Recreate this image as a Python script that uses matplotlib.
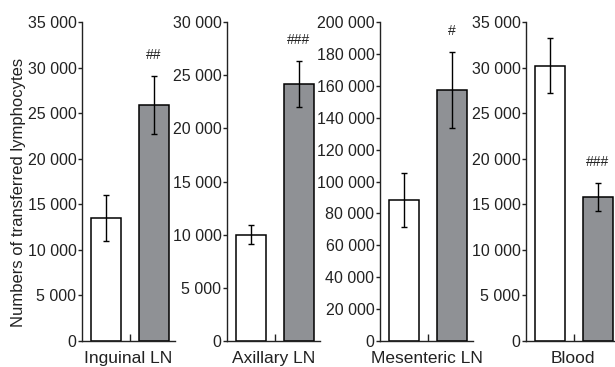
import matplotlib
matplotlib.use("Agg")
import matplotlib.pyplot as plt
from matplotlib.ticker import FuncFormatter

plt.rcParams["font.family"] = ["Liberation Sans", "DejaVu Sans"]

# data
tissues = ["Inguinal LN", "Axillary LN", "Mesenteric LN", "Blood"]
white_vals = [13500, 10000, 88500, 30200]
white_errs = [2500, 900, 17000, 3000]
gray_vals = [25900, 24200, 157500, 15800]
gray_errs = [3200, 2150, 24000, 1500]
marks = ["##", "###", "#", "###"]
ymaxes = [35000, 30000, 200000, 35000]
ysteps = [5000, 5000, 20000, 5000]

W, H = 615, 367
fig = plt.figure(figsize=(W / 100, H / 100), dpi=100)

ax_left = [82, 227, 380, 526]
ax_w = 93
ax_bottom = 26
ax_top = 22
ink = "#222222"
gray = "#8f9195"


def fmt(v, pos):
    return f"{int(v):,}".replace(",", " ")


for i in range(4):
    ax = fig.add_axes([ax_left[i] / W, ax_bottom / H, ax_w / W,
                       (H - ax_top - ax_bottom) / H])
    ax.bar(0, white_vals[i], width=0.625, color="white", edgecolor="black",
           linewidth=1.1, yerr=white_errs[i], capsize=2.5,
           error_kw=dict(elinewidth=1, capthick=1, ecolor="black"))
    ax.bar(1, gray_vals[i], width=0.625, color=gray, edgecolor="black",
           linewidth=1.1, yerr=gray_errs[i], capsize=2.5,
           error_kw=dict(elinewidth=1, capthick=1, ecolor="black"))
    ax.annotate(marks[i], (1, gray_vals[i] + gray_errs[i]),
                xytext=(0, 15), textcoords="offset points",
                ha="center", va="center", fontsize=10, color=ink)
    ax.set_xlim(-0.5, 1.4375)
    ax.set_ylim(0, ymaxes[i])
    ax.set_yticks(range(0, ymaxes[i] + 1, ysteps[i]))
    ax.yaxis.set_major_formatter(FuncFormatter(fmt))
    ax.set_xticks([0.5])
    ax.set_xticklabels([""])
    ax.tick_params(axis="x", direction="in", length=5, width=1, color=ink)
    ax.tick_params(axis="y", direction="out", length=3, width=1, color=ink,
                   labelsize=11.5, labelcolor=ink, pad=1)
    for s in ["top", "right"]:
        ax.spines[s].set_visible(False)
    for s in ["left", "bottom"]:
        ax.spines[s].set_color(ink)
        ax.spines[s].set_linewidth(1)
    ax.set_xlabel(tissues[i], fontsize=12.5, color=ink, labelpad=4)
    ax.set_facecolor("none")

fig.text(19 / W, 1 - 192 / H, "Numbers of transferred lymphocytes",
         rotation=90, ha="center", va="center", fontsize=12, color=ink)

fig.savefig("out.png", dpi=100)
